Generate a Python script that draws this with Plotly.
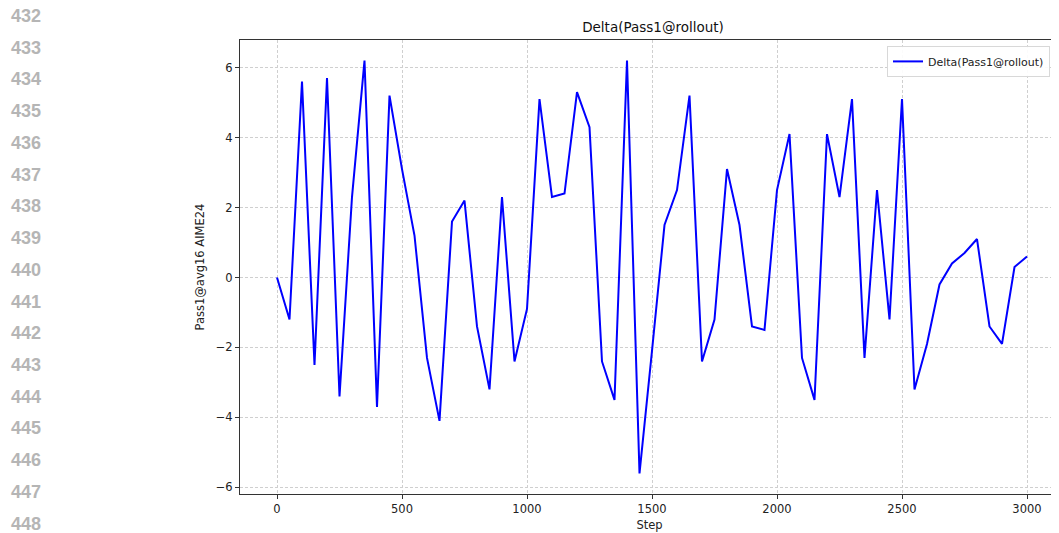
import plotly.graph_objects as go

steps = list(range(0, 3001, 50))
delta = [0.0, -1.2, 5.6, -2.5, 5.7, -3.4, 2.3, 6.2, -3.7, 5.2,
         3.1, 1.2, -2.3, -4.1, 1.6, 2.2, -1.4, -3.2, 2.3, -2.4,
         -0.9, 5.1, 2.3, 2.4, 5.3, 4.3, -2.4, -3.5, 6.2, -5.6,
         -2.1, 1.5, 2.5, 5.2, -2.4, -1.2, 3.1, 1.5, -1.4, -1.5,
         2.5, 4.1, -2.3, -3.5, 4.1, 2.3, 5.1, -2.3, 2.5, -1.2,
         5.1, -3.2, -1.9, -0.2, 0.4, 0.7, 1.1, -1.4, -1.9, 0.3,
         0.6]
line_numbers = list(range(432, 449))
x_ticks = [0, 500, 1000, 1500, 2000, 2500, 3000]
y_ticks = [-6, -4, -2, 0, 2, 4, 6]

FONT = "DejaVu Sans"
# the page body has an 8px margin, so the figure is drawn 8px smaller
W, H = 1051, 525
ML, MT, MB = 232, 32, 39
PH = H - MT - MB
PW = W - ML

fig = go.Figure()
fig.add_trace(go.Scatter(
    x=steps, y=delta, mode="lines", name="Delta(Pass1@rollout)",
    line=dict(color="#0000ff", width=2),
))

# margin line numbers (gray)
for i, n in enumerate(line_numbers):
    wy = 16 + i * 31.73
    fig.add_annotation(
        xref="paper", yref="paper", x=(2 - ML) / PW, y=1 - (wy - 8 - MT) / PH,
        text=f"<b>{n}</b>", showarrow=False, xanchor="left", yanchor="middle",
        borderpad=0,
        font=dict(family="Liberation Sans", size=18, color="#b5b5b5"),
    )

fig.update_layout(
    width=W, height=H,
    margin=dict(l=ML, r=0, t=MT, b=MB, pad=0),
    paper_bgcolor="white", plot_bgcolor="white",
    font=dict(family=FONT, size=11.5, color="#222222"),
    title=dict(text="Delta(Pass1@rollout)", xref="container", x=645 / W, xanchor="center",
               yref="container", y=1 - 19 / H, yanchor="middle",
               font=dict(family=FONT, size=13.5, color="#111111")),
    showlegend=True,
    legend=dict(x=(1042 - ML) / PW, y=0.987, xanchor="right", yanchor="top",
                bgcolor="rgba(255,255,255,0.9)", bordercolor="#d8d8d8", borderwidth=1,
                itemwidth=30, tracegroupgap=0,
                font=dict(family=FONT, size=11, color="#222222")),
    xaxis=dict(
        range=[-148, 3128], tickmode="array", tickvals=x_ticks,
        showgrid=True, gridcolor="#cfcfcf", griddash="3px,2px", gridwidth=1,
        zeroline=False, showline=True, linecolor="#333333", linewidth=1.2,
        mirror=True, ticks="outside", ticklen=4, tickcolor="#333333",
        title=dict(text="Step", standoff=6, font=dict(family=FONT, size=11.5)),
        tickfont=dict(family=FONT, size=11.5),
    ),
    yaxis=dict(
        range=[-6.19, 6.79], tickmode="array", tickvals=y_ticks,
        showgrid=True, gridcolor="#cfcfcf", griddash="3px,2px", gridwidth=1,
        zeroline=False, showline=True, linecolor="#333333", linewidth=1.2,
        ticks="outside", ticklen=4, tickcolor="#333333",
        title=dict(text="Pass1@avg16 AIME24", standoff=8, font=dict(family=FONT, size=11.5)),
        tickfont=dict(family=FONT, size=11.5),
    ),
)

fig.write_html("out.html")
